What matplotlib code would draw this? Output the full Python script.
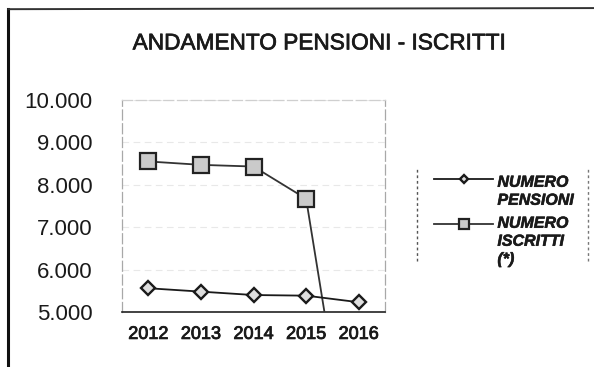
import numpy as np
import matplotlib.pyplot as plt
import matplotlib.patheffects as pe
from matplotlib.lines import Line2D
from matplotlib.legend_handler import HandlerLine2D
from matplotlib.ticker import FuncFormatter

plt.rcParams['font.family'] = ['Liberation Sans', 'DejaVu Sans']

anni = ['2012', '2013', '2014', '2015', '2016']
numero_pensioni = [5560, 5480, 5400, 5385, 5230]
numero_iscritti = [8550, 8470, 8430, 7670, 0]


class HandlerAlto(HandlerLine2D):
    """Sposta il simbolo della legenda all'altezza della prima riga."""
    def __init__(self, shift, ms, **kw):
        super().__init__(**kw)
        self.shift = shift
        self.ms = ms

    def create_artists(self, legend, orig_handle, xdescent, ydescent,
                       width, height, fontsize, trans):
        arts = super().create_artists(legend, orig_handle, xdescent, ydescent,
                                      width, height, fontsize, trans)
        for a in arts:
            a.set_ydata(np.asarray(a.get_ydata()) + self.shift * fontsize)
            a.set_markersize(self.ms)
        return arts


fig = plt.figure(figsize=(5.94, 3.67), dpi=100)
ax = fig.add_axes([0.2054, 0.1499, 0.4428, 0.5777])

x = np.arange(len(anni))
l1, = ax.plot(x, numero_pensioni, color='#1a1a1a', lw=1.3, marker='D', ms=7.5,
              mfc='#dedede', mec='#1a1a1a', mew=1.7, label='NUMERO\nPENSIONI', zorder=4)
l2, = ax.plot(x, numero_iscritti, color='#333333', lw=1.3, marker='s', ms=11,
              mfc='#cacaca', mec='#222222', mew=1.6, label='NUMERO\nISCRITTI\n(*)', zorder=3)

ax.set_xlim(-0.5, len(anni) - 0.5)
ax.set_ylim(5000, 10000)
ax.set_yticks(np.arange(5000, 10001, 1000))
ax.yaxis.set_major_formatter(FuncFormatter(lambda v, p: f'{int(v):,}'.replace(',', '.')))
ax.set_xticks(x)
ax.set_xticklabels(anni)
ax.tick_params(axis='y', length=0, pad=21, labelsize=16, colors='#1a1a1a')
ax.tick_params(axis='x', length=0, pad=10, labelsize=13, colors='#1a1a1a')
for t in ax.get_xticklabels():
    t.set_path_effects([pe.withStroke(linewidth=0.6, foreground='#1a1a1a')])

ax.grid(axis='y', color='#e8e8e8', lw=0.8, ls=(0, (6, 4)))
ax.spines['top'].set_color('#cfcfcf')
ax.spines['left'].set_color('#a8a8a8')
ax.spines['right'].set_color('#a8a8a8')
for side in ['top', 'right', 'left']:
    ax.spines[side].set_linestyle((0, (8, 3)))
    ax.spines[side].set_linewidth(0.9)
ax.spines['bottom'].set_color('#222222')
ax.spines['bottom'].set_linewidth(1.2)

fig.text(0.537, 0.883, 'ANDAMENTO PENSIONI - ISCRITTI', ha='center', va='center',
         fontsize=16.3, color='#1a1a1a',
         path_effects=[pe.withStroke(linewidth=0.5, foreground='#1a1a1a')])

leg = fig.legend(handles=[l1, l2], loc='upper left', bbox_to_anchor=(0.707, 0.563),
                 frameon=False, handlelength=3.7, handletextpad=0.25, labelspacing=0.5,
                 prop={'family': 'Liberation Sans', 'style': 'italic', 'weight': 'bold', 'size': 11.5},
                 handler_map={l1: HandlerAlto(0.8, 4.5), l2: HandlerAlto(1.12, 6.5)})
for t in leg.get_texts():
    t.set_color('#1a1a1a')
    t.set_linespacing(1.25)
    t.set_path_effects([pe.withStroke(linewidth=0.4, foreground='#1a1a1a')])

# cornice esterna e bordi della legenda
fig.add_artist(Line2D([0.014, 0.014], [0.0, 0.975], color='#111111', lw=2.2))
fig.add_artist(Line2D([0.014, 1.0], [0.975, 0.978], color='#333333', lw=1.4))
fig.add_artist(Line2D([0.702, 0.702], [0.29, 0.54], color='#555555', lw=1.0, ls=(0, (2, 2))))
fig.add_artist(Line2D([0.99, 0.99], [0.29, 0.54], color='#777777', lw=1.0, ls=(0, (2, 2))))

fig.savefig('out.png', dpi=100)
